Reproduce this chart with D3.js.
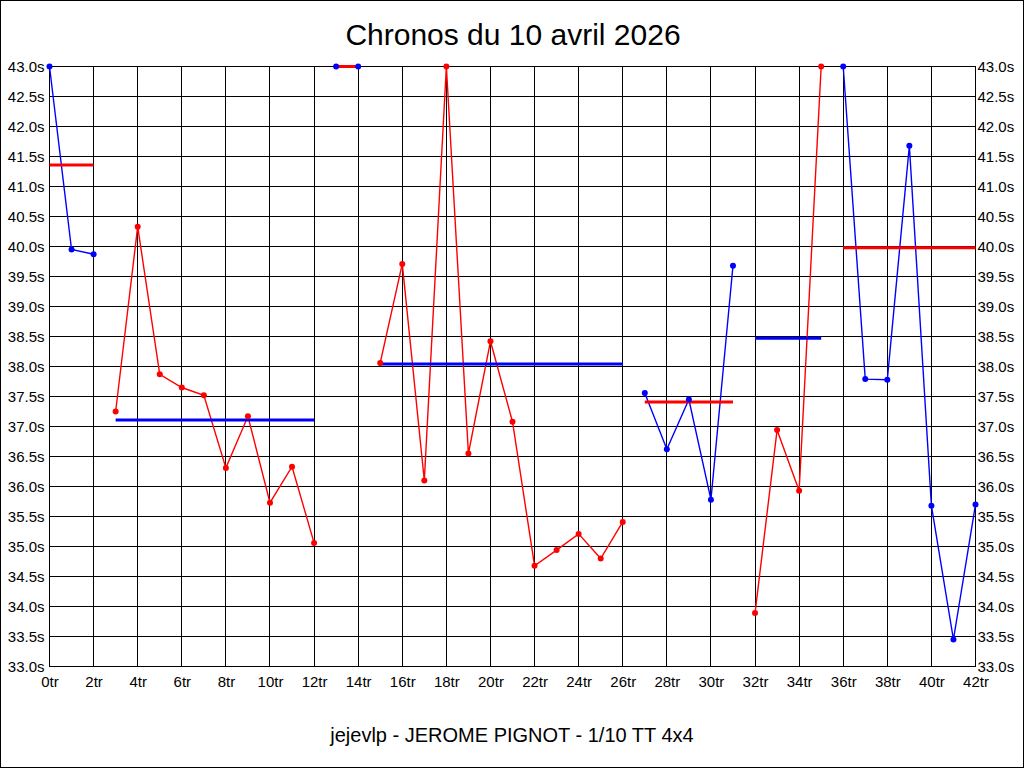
<!DOCTYPE html>
<html>
<head>
<meta charset="utf-8">
<script src="https://cdn.jsdelivr.net/npm/d3@7"></script>
<style>
  html, body { margin: 0; padding: 0; background: #fff; }
  svg { display: block; }
  text { font-family: "Liberation Sans", Arial, sans-serif; fill: #000; }
</style>
</head>
<body>
<svg id="chart" width="1024" height="768"></svg>
<script>
// ---- data ----
const title = "Chronos du 10 avril 2026";
const footer = "jejevlp - JEROME PIGNOT - 1/10 TT 4x4";
// lap times (s), one per lap 0..42 (values at 43.0 are clipped at the top)
const lapTimes = [
  43.0, 39.95, 39.87,
  37.25, 40.33, 37.87, 37.65, 37.52, 36.31, 37.17, 35.73, 36.33, 35.06,
  43.0, 43.0,
  38.06, 39.71, 36.10, 43.0, 36.55, 38.42, 37.08, 34.68, 34.94, 35.21, 34.80, 35.41,
  37.56, 36.62, 37.45, 35.78, 39.68,
  33.89, 36.94, 35.93, 43.0,
  43.0, 37.79, 37.78, 41.68, 35.68, 33.45, 35.70
];
// runs (segments) : first lap, last lap, average, colour of points
const segStart = [0, 3, 13, 15, 27, 32, 36];
const segEnd   = [2, 12, 14, 26, 31, 35, 42];
const segAvg   = [41.36, 37.11, 43.0, 38.04, 37.41, 38.47, 39.98];
const segColor = ["blue", "red", "blue", "red", "blue", "red", "blue"];
const avgColor = ["red", "blue", "red", "blue", "red", "blue", "red"];
const yTicks = [33.0, 33.5, 34.0, 34.5, 35.0, 35.5, 36.0, 36.5, 37.0, 37.5, 38.0,
                38.5, 39.0, 39.5, 40.0, 40.5, 41.0, 41.5, 42.0, 42.5, 43.0];
const xTicks = [0, 2, 4, 6, 8, 10, 12, 14, 16, 18, 20, 22, 24, 26, 28, 30, 32, 34, 36, 38, 40, 42];

const colors = { blue: "#0000ff", red: "#ff0000" };
const tickFont = '"Liberation Sans Narrow", "Arial Narrow", "Liberation Sans", Arial, sans-serif';

// ---- chart ----
const svg = d3.select("#chart");
const x = d3.scaleLinear().domain([0, 42]).range([49.5, 975.5]);
const y = d3.scaleLinear().domain([33, 43]).range([666.5, 66.5]);

// page border
svg.append("rect").attr("x", 0.5).attr("y", 0.5).attr("width", 1023).attr("height", 767)
  .attr("fill", "#fff").attr("stroke", "#000");

// grid
const grid = svg.append("g").attr("stroke", "#000").attr("stroke-width", 1).attr("shape-rendering", "crispEdges");
grid.selectAll("line.h").data(yTicks).join("line").attr("class", "h")
  .attr("x1", x(0)).attr("x2", x(42)).attr("y1", d => y(d)).attr("y2", d => y(d));
grid.selectAll("line.v").data(xTicks).join("line").attr("class", "v")
  .attr("x1", d => x(d)).attr("x2", d => x(d)).attr("y1", y(43)).attr("y2", y(33));

// axes labels via d3 axes (hide domain/ticks)
const fmtY = d => d.toFixed(1) + "s";
const fmtX = d => d + "tr";
const leftAxis = svg.append("g").attr("transform", `translate(${x(0)},0)`)
  .call(d3.axisLeft(y).tickValues(yTicks).tickFormat(fmtY).tickSize(0).tickPadding(5));
const rightAxis = svg.append("g").attr("transform", `translate(${x(42)},0)`)
  .call(d3.axisRight(y).tickValues(yTicks).tickFormat(fmtY).tickSize(0).tickPadding(2));
const bottomAxis = svg.append("g").attr("transform", `translate(0,${y(33)})`)
  .call(d3.axisBottom(x).tickValues(xTicks).tickFormat(fmtX).tickSize(0).tickPadding(10));
[leftAxis, rightAxis, bottomAxis].forEach(a => {
  a.select(".domain").remove();
  a.selectAll("text").style("font-family", tickFont)
    .style("font-size", "15px").attr("fill", "#000");
});

// data
const line = d3.line().x(d => x(d.lap)).y(d => y(d.t));
segStart.forEach((s, i) => {
  const pts = [];
  for (let l = s; l <= segEnd[i]; l++) pts.push({ lap: l, t: lapTimes[l] });
  const c = colors[segColor[i]];
  svg.append("path").datum(pts).attr("d", line)
    .attr("fill", "none").attr("stroke", c).attr("stroke-width", 1.4);
  svg.append("line")
    .attr("x1", x(s)).attr("x2", x(segEnd[i]))
    .attr("y1", y(segAvg[i])).attr("y2", y(segAvg[i]))
    .attr("stroke", colors[avgColor[i]]).attr("stroke-width", 3);
  svg.append("g").selectAll("circle").data(pts).join("circle")
    .attr("cx", d => x(d.lap)).attr("cy", d => y(d.t)).attr("r", 3).attr("fill", c);
});

// title & footer
svg.append("text").attr("x", 513).attr("y", 45).attr("text-anchor", "middle")
  .style("font-size", "30px").text(title);
svg.append("text").attr("x", 512).attr("y", 742).attr("text-anchor", "middle")
  .style("font-size", "20px").text(footer);
</script>
</body>
</html>
